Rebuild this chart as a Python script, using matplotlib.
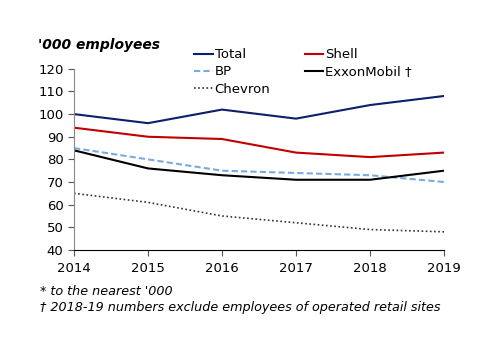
import matplotlib.pyplot as plt

years = [2014, 2015, 2016, 2017, 2018, 2019]
total = [100, 96, 102, 98, 104, 108]
shell = [94, 90, 89, 83, 81, 83]
bp = [85, 80, 75, 74, 73, 70]
exxon = [84, 76, 73, 71, 71, 75]
chevron = [65, 61, 55, 52, 49, 48]

plt.rcParams['font.family'] = ['DejaVu Sans']

fig = plt.figure(figsize=(5, 3.53), dpi=100)
ax = fig.add_axes([0.148, 0.292, 0.74, 0.513])

# order gives column-major fill: Total, BP, Chevron | Shell, ExxonMobil
ax.plot(years, total, color='#0b1f6b', lw=1.5, label='Total')
ax.plot(years, bp, color='#7aaae0', lw=1.5, ls=(0, (3, 1.5)), label='BP')
ax.plot(years, chevron, color='#333333', lw=1.2, ls=(0, (1, 1.5)), label='Chevron')
ax.plot(years, shell, color='#c00000', lw=1.5, label='Shell')
ax.plot(years, exxon, color='black', lw=1.5, label='ExxonMobil \u2020')

ax.set_xlim(2014, 2019)
ax.set_ylim(40, 120)
ax.set_yticks(range(40, 121, 10))
ax.set_xticks(years)
for s in ['top', 'right']:
    ax.spines[s].set_visible(False)
ax.spines['left'].set_color('#888888')
ax.tick_params(labelsize=9.5, length=4, color='#555555')
ax.tick_params(axis='x', pad=5)

fig.text(0.076, 0.86, "'000 employees", fontsize=10, style='italic',
         fontweight='semibold')

fig.legend(loc='upper left', bbox_to_anchor=(0.375, 0.882), ncol=2,
           frameon=False, fontsize=9.5, handlelength=1.4, handletextpad=0.15,
           labelspacing=0.32, columnspacing=2.6, borderpad=0)

fig.text(0.08, 0.165, "* to the nearest '000", fontsize=9.2, style='italic')
fig.text(0.08, 0.12, "\u2020 2018-19 numbers exclude employees of operated retail sites",
         fontsize=9.2, style='italic')

fig.savefig('out.png', dpi=100)
